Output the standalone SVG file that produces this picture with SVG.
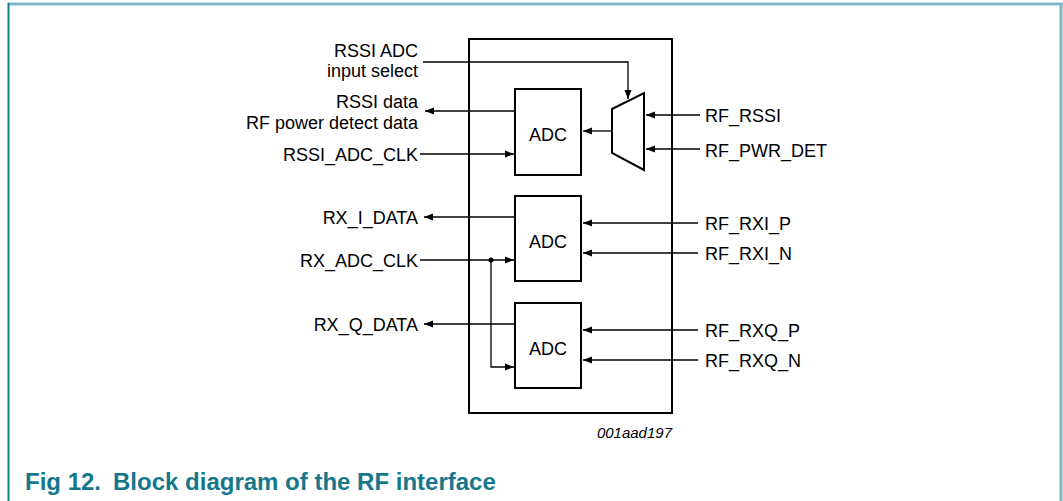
<svg xmlns="http://www.w3.org/2000/svg" width="1063" height="501" viewBox="0 0 1063 501">
<defs>
<style>
.lbl{font-family:"Liberation Sans",Arial,sans-serif;font-size:18px;fill:#000}
.r{text-anchor:end}
.c{text-anchor:middle}
.box{fill:#fff;stroke:#000;stroke-width:2}
.wire{fill:none;stroke:#000;stroke-width:1.3}
.cap{font-family:"Liberation Sans",Arial,sans-serif;font-size:24px;font-weight:bold;fill:#16778c}
.code{font-family:"Liberation Sans",Arial,sans-serif;font-size:15px;font-style:italic;fill:#000}
</style>
<marker id="ah" markerWidth="10" markerHeight="8" refX="9" refY="4" orient="auto" markerUnits="userSpaceOnUse">
<path d="M0,0.5 L9,4 L0,7.5 Z" fill="#000"/>
</marker>
</defs>
<rect x="0" y="0" width="1063" height="501" fill="#fff"/>
<g id="frame">
<line x1="8" y1="4" x2="1063" y2="4" stroke="#7fb8c8" stroke-width="3"/>
<line x1="1061" y1="4" x2="1061" y2="501" stroke="#7fb8c8" stroke-width="3"/>
<line x1="8.5" y1="3" x2="8.5" y2="501" stroke="#1a7a8c" stroke-width="2"/>
</g>
<g id="chip"><rect class="box" x="469" y="39" width="203" height="374" style="fill:none"/></g>
<g id="adc1"><rect class="box" x="515" y="89" width="66" height="86"/><text class="lbl c" x="548" y="141">ADC</text></g>
<g id="adc2"><rect class="box" x="515" y="196" width="66" height="85"/><text class="lbl c" x="548" y="248">ADC</text></g>
<g id="adc3"><rect class="box" x="515" y="303" width="66" height="85"/><text class="lbl c" x="548" y="355">ADC</text></g>
<g id="mux"><path class="box" d="M612,109 L644,93 L644,170 L612,153 Z"/></g>
<g id="connectors">
<path class="wire" d="M423,62 H628 V99" marker-end="url(#ah)"/>
<line class="wire" x1="515" y1="111" x2="425" y2="111" marker-end="url(#ah)"/>
<line class="wire" x1="612" y1="131" x2="583" y2="131" marker-end="url(#ah)"/>
<line class="wire" x1="420" y1="154" x2="514" y2="154" marker-end="url(#ah)"/>
<line class="wire" x1="700" y1="115" x2="646" y2="115" marker-end="url(#ah)"/>
<line class="wire" x1="700" y1="149" x2="646" y2="149" marker-end="url(#ah)"/>
<line class="wire" x1="515" y1="217" x2="424" y2="217" marker-end="url(#ah)"/>
<line class="wire" x1="420" y1="260" x2="514" y2="260" marker-end="url(#ah)"/>
<path class="wire" d="M491,260 V367 H514" marker-end="url(#ah)"/>
<circle cx="491" cy="260" r="2.5" fill="#000"/>
<line class="wire" x1="515" y1="324" x2="424" y2="324" marker-end="url(#ah)"/>
<line class="wire" x1="698" y1="223" x2="583" y2="223" marker-end="url(#ah)"/>
<line class="wire" x1="698" y1="253" x2="583" y2="253" marker-end="url(#ah)"/>
<line class="wire" x1="698" y1="330" x2="583" y2="330" marker-end="url(#ah)"/>
<line class="wire" x1="698" y1="360" x2="583" y2="360" marker-end="url(#ah)"/>
</g>
<g id="labels">
<text class="lbl r" x="418" y="57">RSSI ADC</text>
<text class="lbl r" x="418" y="77">input select</text>
<text class="lbl r" x="418" y="108">RSSI data</text>
<text class="lbl r" x="418" y="129">RF power detect data</text>
<text class="lbl r" x="418" y="161">RSSI_ADC_CLK</text>
<text class="lbl r" x="418" y="224">RX_I_DATA</text>
<text class="lbl r" x="418" y="267">RX_ADC_CLK</text>
<text class="lbl r" x="418" y="331">RX_Q_DATA</text>
<text class="lbl" x="705" y="122">RF_RSSI</text>
<text class="lbl" x="705" y="157">RF_PWR_DET</text>
<text class="lbl" x="705" y="230">RF_RXI_P</text>
<text class="lbl" x="705" y="260">RF_RXI_N</text>
<text class="lbl" x="705" y="337">RF_RXQ_P</text>
<text class="lbl" x="705" y="367">RF_RXQ_N</text>
<text class="code r" x="672" y="438">001aad197</text>
</g>
<g id="caption"><text class="cap" x="25" y="490">Fig 12.<tspan dx="12">Block diagram of the RF interface</tspan></text></g>
</svg>
